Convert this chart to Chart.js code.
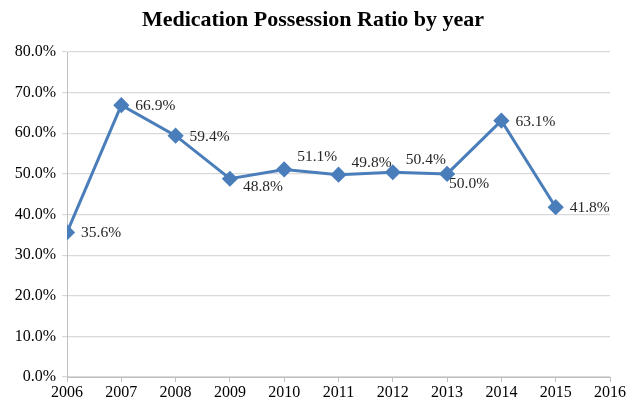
<!DOCTYPE html>
<html>
<head>
<meta charset="utf-8">
<script src="https://cdn.jsdelivr.net/npm/chart.js@4.4.0/dist/chart.umd.min.js"></script>
<style>
  html, body { margin: 0; padding: 0; background: #fff; }
  #wrap { width: 627px; height: 403px; position: relative; }
</style>
</head>
<body>
<div id="wrap"><canvas id="chart"></canvas></div>
<script>
// Medication Possession Ratio by year - line chart
const titleText = 'Medication Possession Ratio by year';
const years = [2006, 2007, 2008, 2009, 2010, 2011, 2012, 2013, 2014, 2015];
const ratios = [0.356, 0.669, 0.594, 0.488, 0.511, 0.498, 0.504, 0.500, 0.631, 0.418];
// where each value label sits relative to its point
const labelPlaces = ['right', 'right', 'right', 'belowRight', 'aboveRight', 'aboveRight', 'aboveRight', 'below', 'right', 'right'];

const placeOffsets = {
    right: [14, 1],
    belowRight: [13, 8],
    aboveRight: [13, -12],
    below: [2, 10]
};

const serif = '"Liberation Serif", "Times New Roman", serif';
const pct = v => (v * 100).toFixed(1) + '%';

// title + value labels drawn by hand so they sit where the original has them
const extras = {
    id: 'extras',
    afterDraw(chart) {
        const ctx = chart.ctx;
        ctx.save();
        ctx.font = 'bold 22px ' + serif;
        ctx.fillStyle = '#000';
        ctx.textAlign = 'center';
        ctx.textBaseline = 'middle';
        ctx.fillText(titleText, 313, 20);
        ctx.restore();
    },
    afterDatasetsDraw(chart) {
        const ctx = chart.ctx;
        const meta = chart.getDatasetMeta(0);
        ctx.save();
        ctx.font = '15.5px ' + serif;
        ctx.fillStyle = '#262626';
        ctx.textBaseline = 'middle';
        ctx.textAlign = 'left';
        meta.data.forEach((pt, i) => {
            const off = placeOffsets[labelPlaces[i]];
            ctx.fillText(pct(ratios[i]), pt.x + off[0], pt.y + off[1]);
        });
        ctx.restore();
    }
};

new Chart(document.getElementById('chart'), {
    type: 'line',
    data: {
        datasets: [{
            label: 'Medication Possession Ratio',
            data: years.map((y, i) => ({ x: y, y: ratios[i] })),
            borderColor: '#4a7ebb',
            backgroundColor: '#4a7ebb',
            borderWidth: 3,
            pointStyle: 'rectRot',
            pointRadius: 6,
            pointHoverRadius: 6,
            tension: 0
        }]
    },
    options: {
        responsive: true,
        maintainAspectRatio: false,
        animation: false,
        layout: { padding: { left: 0, right: 16, top: 52, bottom: 0 } },
        plugins: {
            legend: { display: false },
            tooltip: { enabled: false },
            title: { display: false }
        },
        scales: {
            x: {
                type: 'linear',
                min: 2006,
                max: 2016,
                ticks: {
                    stepSize: 1,
                    color: '#000',
                    font: { family: serif, size: 16 },
                    padding: 1,
                    maxRotation: 0,
                    callback: v => String(v)
                },
                grid: { drawOnChartArea: false, drawTicks: true, tickLength: 5, color: '#bfbfbf' },
                border: { color: '#bfbfbf' },
                afterFit: s => { s.height = 26; }
            },
            y: {
                min: 0,
                max: 0.8,
                ticks: {
                    stepSize: 0.1,
                    color: '#000',
                    font: { family: serif, size: 16 },
                    padding: 6,
                    callback: v => pct(v)
                },
                grid: { color: '#d9d9d9', lineWidth: 1.2, tickLength: 5 },
                border: { color: '#bfbfbf' },
                afterFit: s => { s.width = 67; }
            }
        }
    },
    plugins: [extras]
});
</script>
</body>
</html>
